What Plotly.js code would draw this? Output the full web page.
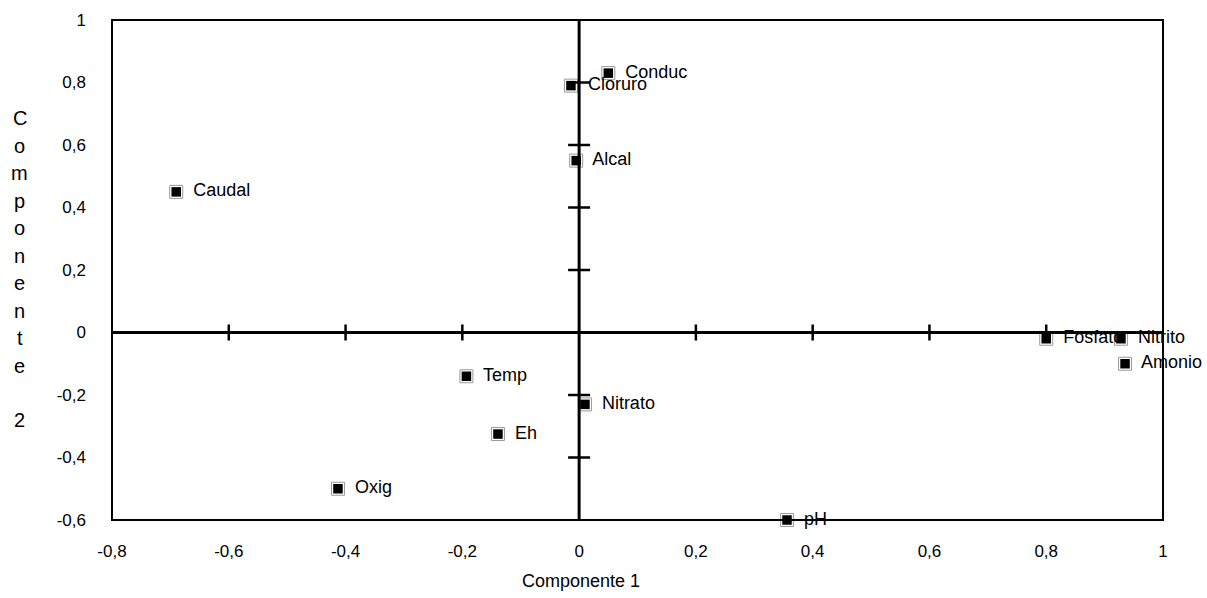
<!DOCTYPE html>
<html>
<head>
<meta charset="utf-8">
<script src="https://cdn.plot.ly/plotly-3.0.1.min.js"></script>
<style>html,body{margin:0;padding:0;background:#fff;}#chart{width:1207px;height:598px;}</style>
</head>
<body>
<div id="chart"></div>
<script>
// Variables (labels) and their loadings
const variables = ["Conduc", "Cloruro", "Alcal", "Caudal", "Fosfato", "Nitrito", "Amonio", "Temp", "Nitrato", "Eh", "Oxig", "pH"];
const comp1 = [0.05, -0.014, -0.005, -0.69, 0.80, 0.928, 0.935, -0.193, 0.01, -0.139, -0.413, 0.356];
const comp2 = [0.83, 0.79, 0.55, 0.45, -0.02, -0.02, -0.10, -0.14, -0.23, -0.325, -0.50, -0.60];

// Axis ticks
const xTickVals = [-0.8, -0.6, -0.4, -0.2, 0, 0.2, 0.4, 0.6, 0.8, 1];
const xTickText = ["-0,8", "-0,6", "-0,4", "-0,2", "0", "0,2", "0,4", "0,6", "0,8", "1"];
const yTickVals = [-0.6, -0.4, -0.2, 0, 0.2, 0.4, 0.6, 0.8, 1];
const yTickText = ["-0,6", "-0,4", "-0,2", "0", "0,2", "0,4", "0,6", "0,8", "1"];

const xTitle = "Componente 1";
const yTitle = "Componente 2";

const FONT = "Liberation Sans, Arial, sans-serif";

const traces = [
  {
    x: comp1, y: comp2, type: "scatter", mode: "markers",
    marker: {symbol: "square-open", size: 13, color: "#9a9a9a", line: {width: 1, color: "#9a9a9a"}},
    hoverinfo: "skip", cliponaxis: false, showlegend: false
  },
  {
    x: comp1, y: comp2, type: "scatter", mode: "markers+text",
    text: variables.map(v => "  " + v),
    textposition: "middle right",
    textfont: {family: FONT, size: 18, color: "#000"},
    marker: {symbol: "square", size: 9.5, color: "#000", line: {width: 0}},
    cliponaxis: false, showlegend: false
  }
];

const shapes = [];
// zero axes drawn above the marks
shapes.push({type: "line", xref: "x", yref: "paper", x0: 0, x1: 0, y0: 0, y1: 1, line: {color: "#000", width: 3}, layer: "above"});
shapes.push({type: "line", xref: "paper", yref: "y", x0: 0, x1: 1, y0: 0, y1: 0, line: {color: "#000", width: 3}, layer: "above"});
// tick marks crossing the zero axes
xTickVals.forEach(v => {
  if (v === 0 || v === -0.8 || v === 1) return;
  shapes.push({type: "line", xref: "x", yref: "y", x0: v, x1: v, ysizemode: "pixel", yanchor: 0, y0: -8, y1: 8, line: {color: "#000", width: 2.5}, layer: "above"});
});
yTickVals.forEach(v => {
  if (v === 0 || v === -0.6 || v === 1) return;
  shapes.push({type: "line", xref: "x", yref: "y", y0: v, y1: v, xsizemode: "pixel", xanchor: 0, x0: -11, x1: 11, line: {color: "#000", width: 2.5}, layer: "above"});
});
// frame
shapes.push({type: "rect", xref: "paper", yref: "paper", x0: 0, x1: 1, y0: 0, y1: 1, line: {color: "#000", width: 2}, layer: "above"});

const W = 1051, H = 500, L = 112, T = 20;
const annotations = [];
// x title
annotations.push({text: xTitle, xref: "x", yref: "paper", x: 0.003, y: -0.122, yanchor: "middle", xanchor: "center", showarrow: false, font: {family: FONT, size: 18, color: "#000"}});
// y title as stacked letters
const letters = yTitle.split("");
letters.forEach((ch, i) => {
  if (ch === " ") return;
  const py = 118 + i * 27.5;
  annotations.push({text: ch, xref: "paper", yref: "paper", x: (20 - L) / W, y: (T + H - py) / H, xanchor: "center", yanchor: "middle", showarrow: false, font: {family: FONT, size: 20, color: "#000"}});
});

const layout = {
  width: 1207, height: 598,
  margin: {l: 112, r: 44, t: 20, b: 78, pad: 0},
  paper_bgcolor: "#fff", plot_bgcolor: "#fff",
  font: {family: FONT, color: "#000"},
  showlegend: false,
  xaxis: {
    range: [-0.8, 1], tickvals: xTickVals, ticktext: xTickText,
    showgrid: false, zeroline: false, showline: false, ticks: "",
    tickfont: {family: FONT, size: 17, color: "#000"}, ticklabelstandoff: 19, fixedrange: true
  },
  yaxis: {
    range: [-0.6, 1], tickvals: yTickVals, ticktext: yTickText,
    showgrid: false, zeroline: false, showline: false, ticks: "",
    tickfont: {family: FONT, size: 17, color: "#000"}, ticklabelstandoff: 25, fixedrange: true
  },
  shapes: shapes,
  annotations: annotations
};

Plotly.newPlot("chart", traces, layout, {displayModeBar: false, staticPlot: true});
</script>
</body>
</html>
